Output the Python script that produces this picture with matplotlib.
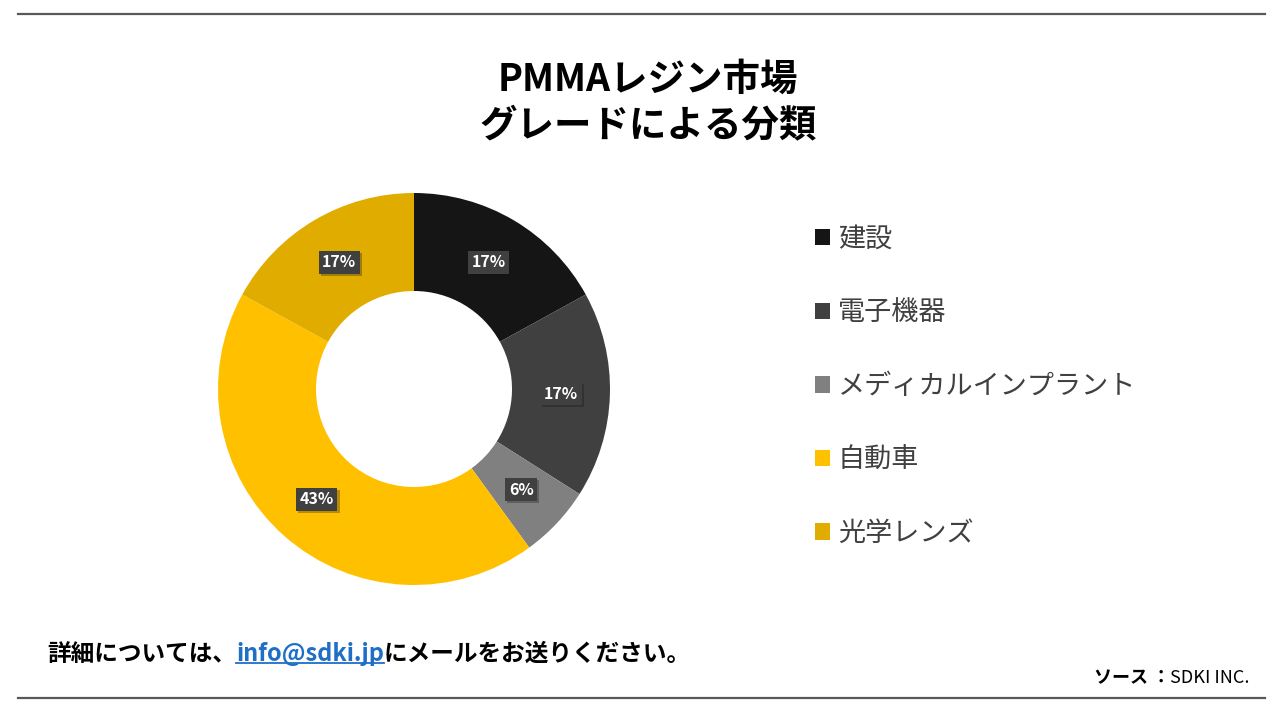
"""
PMMA resin market donut chart (share by grade).
Output: out.png (1280x720)
"""

import numpy as np
import matplotlib.pyplot as plt
import matplotlib.patheffects as pe

plt.rcParams["font.family"] = ["Noto Sans CJK JP", "DejaVu Sans"]

# --- data ---
categories = ["建設", "電子機器", "メディカルインプラント", "自動車", "光学レンズ"]
shares = [17, 17, 6, 43, 17]
colors = ["#151515", "#404040", "#808080", "#FFC000", "#E0AC00"]

title = "PMMAレジン市場\nグレードによる分類"
footer_pre = "詳細については、"
footer_link = "info@sdki.jp"
footer_post = "にメールをお送りください。"
source_label = "ソース ："
source_name = "SDKI INC."

W, H = 1280, 720


def px(x, y):
    """Pixel coords (top-left origin) -> figure fraction."""
    return x / W, 1 - y / H


def draw_donut(fig):
    cx, cy, r = 414, 389, 196
    ax = fig.add_axes([(cx - r) / W, (H - cy - r) / H, 2 * r / W, 2 * r / H])
    wedges, _ = ax.pie(
        shares,
        colors=colors,
        startangle=90,
        counterclock=False,
        radius=1.0,
        wedgeprops=dict(width=0.5, edgecolor="none"),
    )
    ax.set_xlim(-1, 1)
    ax.set_ylim(-1, 1)
    ax.set_aspect("equal")
    ax.axis("off")

    # percentage labels in dark boxes
    total = sum(shares)
    start = 90.0
    for s in shares:
        sweep = 360.0 * s / total
        mid = np.deg2rad(start - sweep / 2)
        start -= sweep
        rr = 0.75
        t = ax.text(
            rr * np.cos(mid), rr * np.sin(mid), f"{s}%",
            ha="center", va="center", color="white",
            fontsize=11.5, fontweight="bold",
            bbox=dict(boxstyle="square,pad=0.22", fc="#404040", ec="none"),
        )
        t.get_bbox_patch().set_path_effects(
            [pe.SimplePatchShadow(offset=(1.5, -1.5), alpha=0.3), pe.Normal()]
        )
    return wedges


def main():
    fig = plt.figure(figsize=(12.8, 7.2), dpi=100)
    fig.patch.set_facecolor("white")

    # top / bottom rules
    for y in (14, 698):
        fig.add_artist(plt.Line2D([18 / W, 1265 / W], [1 - y / H] * 2,
                                  color="#595959", lw=1.6))

    x, y = px(648, 102)
    fig.text(x, y, title, ha="center", va="center", fontsize=27,
             fontweight="bold", color="black", linespacing=1.2)

    wedges = draw_donut(fig)

    x, y = px(804, 215)
    fig.legend(
        wedges, categories, loc="upper left", bbox_to_anchor=(x, y),
        frameon=False, fontsize=19.5, labelcolor="#404040",
        handlelength=0.55, handleheight=0.55, handletextpad=0.3,
        labelspacing=1.72, borderaxespad=0,
    )

    # footer with blue underlined link
    renderer = fig.canvas.get_renderer()
    fs = 17
    x, y = px(47, 654)
    t1 = fig.text(x, y, footer_pre, ha="left", va="center", fontsize=fs,
                  fontweight="bold", color="black")
    bb = t1.get_window_extent(renderer)
    t2 = fig.text(bb.x1 / W, y, footer_link, ha="left", va="center",
                  fontsize=fs, fontweight="bold", color="#1F6FC5")
    bb2 = t2.get_window_extent(renderer)
    fig.add_artist(plt.Line2D([bb2.x0 / W, bb2.x1 / W],
                              [(bb2.y0 + 3) / H] * 2, color="#1F6FC5", lw=1.3))
    fig.text(bb2.x1 / W, y, footer_post, ha="left", va="center", fontsize=fs,
             fontweight="bold", color="black")

    x, y = px(1250, 678)
    s2 = fig.text(x, y, source_name, ha="right", va="center", fontsize=13,
                  color="black")
    bb3 = s2.get_window_extent(renderer)
    fig.text(bb3.x0 / W, y, source_label, ha="right", va="center", fontsize=13,
             fontweight="bold", color="black")

    fig.savefig("out.png", dpi=100, facecolor="white")
    plt.close(fig)


if __name__ == "__main__":
    main()
